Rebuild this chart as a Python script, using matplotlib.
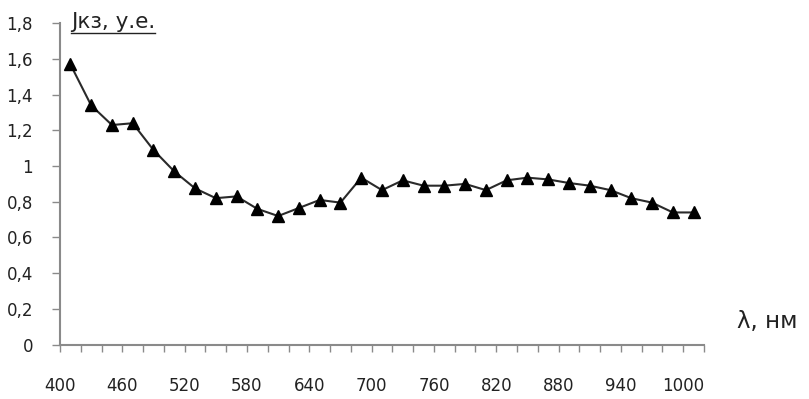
import matplotlib.pyplot as plt
from matplotlib.lines import Line2D
from matplotlib.ticker import FuncFormatter, MultipleLocator

# wavelengths, nm (points sit between the 20 nm tick marks)
wavelength = [410, 430, 450, 470, 490, 510, 530, 550, 570, 590,
              610, 630, 650, 670, 690, 710, 730, 750, 770, 790,
              810, 830, 850, 870, 890, 910, 930, 950, 970, 990, 1010]
# short-circuit current, arbitrary units
j_sc = [1.57, 1.34, 1.23, 1.24, 1.09, 0.97, 0.875, 0.82, 0.83, 0.76,
        0.72, 0.765, 0.81, 0.795, 0.935, 0.865, 0.92, 0.89, 0.89, 0.90,
        0.865, 0.92, 0.935, 0.925, 0.905, 0.89, 0.865, 0.82, 0.795, 0.74, 0.74]

x_labels = [400, 460, 520, 580, 640, 700, 760, 820, 880, 940, 1000]

plt.rcParams["font.family"] = ["DejaVu Sans"]
axis_col = "#8a8a8a"
text_col = "#222222"

fig = plt.figure(figsize=(8.09, 3.99), dpi=100)
ax = fig.add_axes([60 / 809, 1 - 344.5 / 399, 644 / 809, 321.2 / 399])

ax.plot(wavelength, j_sc, color="#2a2a2a", linewidth=1.5,
        marker="^", markersize=9, markerfacecolor="black",
        markeredgecolor="black", clip_on=False, zorder=3)

ax.set_xlim(400, 1020)
ax.set_ylim(0, 1.8)

for side in ("top", "right"):
    ax.spines[side].set_visible(False)
for side in ("left", "bottom"):
    ax.spines[side].set_color(axis_col)
    ax.spines[side].set_linewidth(1.5)

ax.xaxis.set_major_locator(MultipleLocator(20))
ax.xaxis.set_major_formatter(
    FuncFormatter(lambda v, p: f"{int(round(v))}" if int(round(v)) in x_labels else ""))
ax.yaxis.set_major_locator(MultipleLocator(0.2))
ax.yaxis.set_major_formatter(
    FuncFormatter(lambda v, p: f"{v:g}".replace(".", ",")))

ax.tick_params(axis="x", direction="out", length=5, width=1, color=axis_col,
               pad=18.5, labelsize=12, labelcolor=text_col)
ax.tick_params(axis="y", direction="out", length=6, width=1, color=axis_col,
               pad=13.5, labelsize=12, labelcolor=text_col)

# axis titles placed like the original (top of y axis, right end of x axis)
ytitle = fig.text(71 / 809, 1 - 28 / 399, "Jкз, у.е.", fontsize=15.5,
                  color=text_col, ha="left", va="baseline")
fig.text(737 / 809, 1 - 328 / 399, "λ, нм", fontsize=16.5,
         color=text_col, ha="left", va="baseline")

fig.canvas.draw()
bb = ytitle.get_window_extent()
y_ul = (399 - 32.5) / 399
fig.add_artist(Line2D([bb.x0 / 809, bb.x1 / 809], [y_ul, y_ul],
                      transform=fig.transFigure, color=text_col, linewidth=1))

fig.savefig("out.png", dpi=100)
